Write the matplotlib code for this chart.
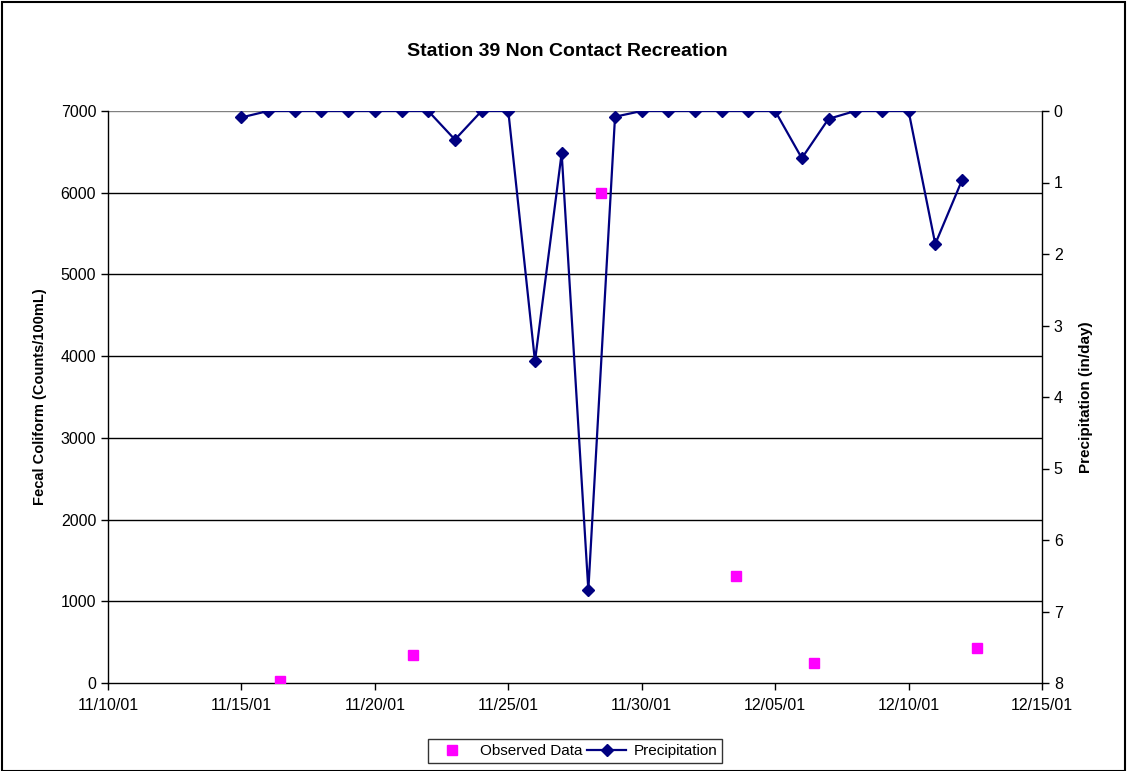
import matplotlib
matplotlib.use("Agg")
import matplotlib.pyplot as plt
import matplotlib.dates as mdates
from matplotlib.patches import Rectangle
import pandas as pd

plt.rcParams['font.family'] = ['Liberation Sans', 'DejaVu Sans']

# Precipitation (in/day), daily 11/15/01 - 12/12/01
precip_dates = pd.date_range("2001-11-15", "2001-12-12", freq="D")
precip_values = [0.09, 0, 0, 0, 0, 0, 0, 0, 0.40, 0, 0, 3.50, 0.59, 6.70, 0.08,
                 0, 0, 0, 0, 0, 0, 0.66, 0.11, 0, 0, 0, 1.86, 0.97]

# Observed fecal coliform (Counts/100mL)
obs_dates = pd.to_datetime(["2001-11-16 10:30", "2001-11-21 10:20", "2001-11-28 11:20",
                            "2001-12-03 12:45", "2001-12-06 10:50", "2001-12-12 13:30"])
obs_values = [30, 340, 6000, 1310, 250, 430]

xtick_dates = pd.date_range("2001-11-10", "2001-12-15", freq="5D")

fig = plt.figure(figsize=(11.27, 7.71), dpi=100)
ax = fig.add_axes([108/1127, 1-683/771, (1042-108)/1127, (683-111)/771])
ax2 = ax.twinx()

ax.set_xlim(pd.Timestamp("2001-11-10"), pd.Timestamp("2001-12-15"))
ax.set_ylim(0, 7000)
ax.set_yticks(range(0, 7001, 1000))
for v in range(1000, 7001, 1000):
    ax.axhline(v, color='gray' if v == 7000 else 'black', lw=1.0, zorder=0)

ax.set_xticks(xtick_dates)
ax.xaxis.set_major_formatter(mdates.DateFormatter('%m/%d/%y'))

l1, = ax.plot(obs_dates, obs_values, linestyle='none', marker='s', color='#FF00FF',
              markersize=7, label='Observed Data', zorder=3)
l2, = ax2.plot(precip_dates, precip_values, color='#000080', marker='D', markersize=6,
               lw=1.6, label='Precipitation', zorder=4)
ax2.set_ylim(8, 0)
ax2.set_yticks(range(0, 9))

for a in (ax, ax2):
    a.tick_params(labelsize=11.5, direction='out', length=5, width=1, colors='black')
    a.spines['top'].set_visible(False)
ax.spines['right'].set_visible(False)
ax.spines['left'].set_linewidth(1)
ax.spines['bottom'].set_linewidth(1)
ax2.spines['left'].set_visible(False)
ax2.spines['bottom'].set_visible(False)
ax2.spines['right'].set_linewidth(1)
ax.tick_params(axis='x', pad=6)
ax2.set_zorder(ax.get_zorder() + 1)
ax2.patch.set_visible(False)

ax.set_ylabel('Fecal Coliform (Counts/100mL)', fontsize=10.5, fontweight='bold', labelpad=10)
ax2.set_ylabel('Precipitation (in/day)', fontsize=11, fontweight='bold', labelpad=12)
fig.text(0.5035, 1-51/771, 'Station 39 Non Contact Recreation', ha='center', va='center',
         fontsize=14, fontweight='bold')

leg = fig.legend(handles=[l1, l2], loc='center', bbox_to_anchor=(575/1127, 1-751/771),
                 ncol=2, frameon=True, fancybox=False, fontsize=11, handlelength=2.6,
                 columnspacing=0.3, handletextpad=0.5, borderpad=0.3, edgecolor='black')
leg.get_frame().set_linewidth(1)

fig.patches.append(Rectangle((2/1127, 0), 1123/1127, 1-2/771, transform=fig.transFigure,
                             fill=False, edgecolor='black', lw=1.5))

fig.savefig('out.png', dpi=100)
